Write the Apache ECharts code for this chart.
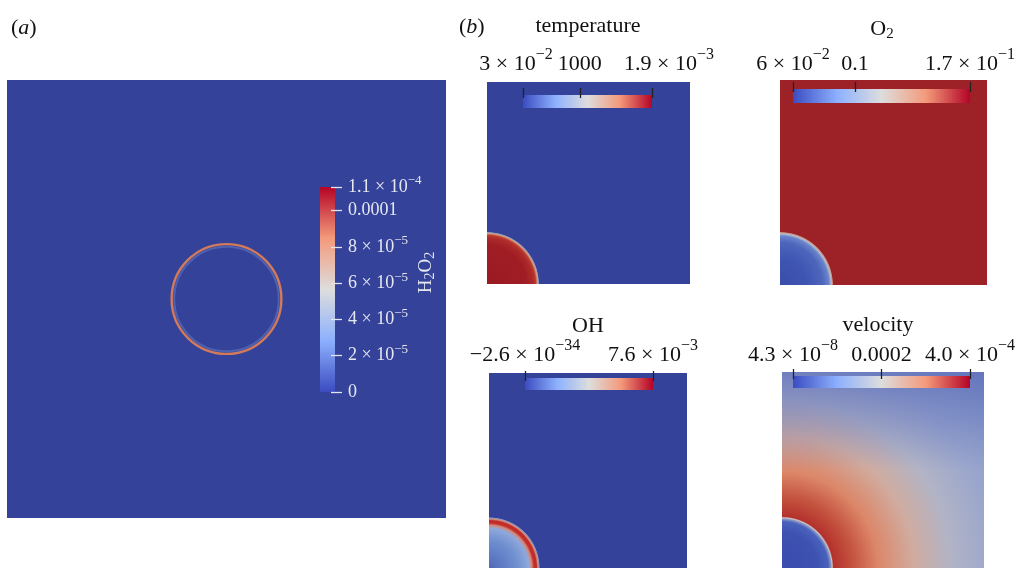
<!DOCTYPE html>
<html><head><meta charset="utf-8">
<script src="https://cdn.jsdelivr.net/npm/echarts@6/dist/echarts.min.js"></script>
<style>html,body{margin:0;padding:0;background:#fff}#c{width:1018px;height:568px}</style>
</head><body><div id="c"></div>
<script>
// ---------- data ----------
const domainA = [0, 1];                 // panel (a) domain (x and y)
const ringA = [0.5, 0.5, 0.125];        // cx, cy, radius of the H2O2 ring
const domainB = [0, 0.5];               // panel (b) quarter domain
const discB = [0, 0, 0.125];            // cx, cy, radius of the droplet in (b)

const h2o2Max = 1.13e-4;
const h2o2Ticks = [0, 2e-5, 4e-5, 6e-5, 8e-5, 1e-4, 1.13e-4];
const h2o2Labels = ['0', '2 × 10^-5', '4 × 10^-5', '6 × 10^-5', '8 × 10^-5', '0.0001', '1.1 × 10^-4'];

const tempTicks = [0, 0.44, 1];
const tempLabels = ['3 × 10^-2', '1000', '1.9 × 10^-3'];
const o2Ticks = [0, 0.35, 1];
const o2Labels = ['6 × 10^-2', '0.1', '1.7 × 10^-1'];
const ohTicks = [0, 1];
const ohLabels = ['−2.6 × 10^-34', '7.6 × 10^-3'];
const velTicks = [0, 0.5, 1];
const velLabels = ['4.3 × 10^-8', '0.0002', '4.0 × 10^-4'];

// ---------- styles ----------
const FONT = '"Liberation Serif", "Times New Roman", serif';
const BG_BLUE = '#34429a';
const BG_RED = '#9c2227';
const coolWarm = [[0, '#3b4cc0'], [0.25, '#8db0fe'], [0.5, '#dddddd'], [0.75, '#f49a7b'], [1, '#b40426']];

function fmtLabel(str, nStyle, sStyle) {
  const i = str.indexOf('^');
  if (i < 0) return '{' + nStyle + '|' + str + '}';
  return '{' + nStyle + '|' + str.slice(0, i) + '}{' + sStyle + '|' + str.slice(i + 1).replace('-', '−') + '}';
}
function labelFor(ticks, labels, shiftEnds) {
  return function (v) {
    let b = 0;
    for (let k = 0; k < ticks.length; k++) if (Math.abs(ticks[k] - v) < Math.abs(ticks[b] - v)) b = k;
    let n = 'n', s = 's';
    if (shiftEnds && b === 0) s = 'sl';
    if (shiftEnds && b === ticks.length - 1) n = 'np';
    return fmtLabel(labels[b], n, s);
  };
}
function stops(arr) { return arr.map(s => ({ offset: s[0], color: s[1] })); }
function radial(cx, cy, r, arr) { return { type: 'radial', x: cx, y: cy, r: r, global: true, colorStops: stops(arr) }; }
function rectOf(api, dom) {
  const p0 = api.coord([dom[0], dom[0]]), p1 = api.coord([dom[1], dom[1]]);
  return { x: Math.min(p0[0], p1[0]), y: Math.min(p0[1], p1[1]), width: Math.abs(p1[0] - p0[0]), height: Math.abs(p1[1] - p0[1]) };
}

// ---------- grids ----------
const grids = [
  { left: 7, top: 80, width: 439, height: 438 },     // 0 field a
  { left: 320, top: 187, width: 15, height: 205 },   // 1 bar a
  { left: 487, top: 82, width: 203, height: 202 },   // 2 temperature
  { left: 523, top: 95, width: 129, height: 13 },    // 3 temp bar
  { left: 780, top: 80, width: 207, height: 205 },   // 4 O2
  { left: 793, top: 89, width: 177, height: 14 },    // 5 O2 bar
  { left: 489, top: 373, width: 198, height: 203 },  // 6 OH
  { left: 525, top: 378, width: 128, height: 12 },   // 7 OH bar
  { left: 782, top: 372, width: 202, height: 204 },  // 8 velocity
  { left: 793, top: 376, width: 177, height: 12 }    // 9 vel bar
];

const xAxes = [], yAxes = [];
function hiddenAxes(g, dom) {
  xAxes.push({ gridIndex: g, type: 'value', min: dom[0], max: dom[1], show: false });
  yAxes.push({ gridIndex: g, type: 'value', min: dom[0], max: dom[1], show: false });
}
const LH = 30;
const richB = {
  n: { fontFamily: FONT, fontSize: 22, color: '#111', lineHeight: LH },
  np: { fontFamily: FONT, fontSize: 22, color: '#111', lineHeight: LH, padding: [0, 0, 0, 34] },
  s: { fontFamily: FONT, fontSize: 16, color: '#111', lineHeight: LH, padding: [0, 0, 18, 0] },
  sl: { fontFamily: FONT, fontSize: 16, color: '#111', lineHeight: LH, padding: [0, 14, 18, 0] }
};
function topAxis(g, tickVals, labelVals, ticks, labels, margin, shiftEnds) {
  return {
    gridIndex: g, type: 'value', min: 0, max: 1, position: 'top', offset: -3, z: 10,
    axisLine: { show: false, onZero: false }, splitLine: { show: false },
    axisTick: { show: tickVals.length > 0, inside: false, customValues: tickVals, length: 10, lineStyle: { color: '#222', width: 1.3 } },
    axisLabel: { show: true, customValues: labelVals, margin: margin, showMinLabel: true, showMaxLabel: true, hideOverlap: false,
      formatter: labelFor(ticks, labels, shiftEnds), rich: richB }
  };
}
function barAxes(g, ticks, labels, margin) {
  xAxes.push(topAxis(g, ticks, ticks, ticks, labels, margin, false));
  yAxes.push({ gridIndex: g, type: 'value', min: 0, max: 1, show: false });
}

// grid 0
hiddenAxes(0, domainA);
// grid 1 (vertical colorbar)
xAxes.push({ gridIndex: 1, type: 'value', min: 0, max: 1, show: false });
yAxes.push({
  gridIndex: 1, type: 'value', min: 0, max: h2o2Max, position: 'right', offset: -4, z: 10,
  axisLine: { show: false, onZero: false }, splitLine: { show: false },
  axisTick: { show: true, inside: false, customValues: h2o2Ticks, length: 11, lineStyle: { color: '#e2e4ee', width: 1.3 } },
  axisLabel: {
    show: true, customValues: h2o2Ticks, margin: 17, showMinLabel: true, showMaxLabel: true, hideOverlap: false,
    formatter: labelFor(h2o2Ticks, h2o2Labels, false),
    rich: {
      n: { fontFamily: FONT, fontSize: 18, color: '#e6e8f0', lineHeight: 24 },
      s: { fontFamily: FONT, fontSize: 13, color: '#e6e8f0', lineHeight: 24, padding: [0, 0, 12, 0] }
    }
  },
  name: 'H{b|2}O{b|2}', nameLocation: 'middle', nameRotate: 90, nameGap: 84, nameMoveOverlap: false,
  nameTextStyle: {
    fontFamily: FONT, fontSize: 19, color: '#e6e8f0', padding: [0, 0, 0, 34],
    rich: { b: { fontFamily: FONT, fontSize: 14, color: '#e6e8f0', padding: [8, 0, 0, 0] } }
  }
});
// temperature: end labels on one axis, middle label on a second axis of the same grid
hiddenAxes(2, domainB);
xAxes.push(topAxis(3, tempTicks, [tempTicks[0], tempTicks[tempTicks.length - 1]], tempTicks, tempLabels, 19, true));
yAxes.push({ gridIndex: 3, type: 'value', min: 0, max: 1, show: false });
hiddenAxes(4, domainB); barAxes(5, o2Ticks, o2Labels, 13);
hiddenAxes(6, domainB); barAxes(7, ohTicks, ohLabels, 11);
hiddenAxes(8, domainB); barAxes(9, velTicks, velLabels, 9);
xAxes.push(topAxis(3, [], [tempTicks[1]], tempTicks, tempLabels, 19, false));

// ---------- series ----------
function fieldSeries(g, renderItem) {
  return { type: 'custom', coordinateSystem: 'cartesian2d', xAxisIndex: g, yAxisIndex: g, clip: true, z: 1, silent: true, data: [[0.1, 0.1]], renderItem };
}
function barSeries(g, vertical, maxY) {
  return {
    type: 'custom', coordinateSystem: 'cartesian2d', xAxisIndex: g, yAxisIndex: g, z: 3, silent: true, data: [[0.5, 0]],
    renderItem: function (params, api) {
      const p0 = api.coord([0, 0]), p1 = api.coord([1, maxY]);
      const shape = { x: Math.min(p0[0], p1[0]), y: Math.min(p0[1], p1[1]), width: Math.abs(p1[0] - p0[0]), height: Math.abs(p1[1] - p0[1]) };
      const grad = vertical
        ? { type: 'linear', x: 0, y: 1, x2: 0, y2: 0, colorStops: stops(coolWarm) }
        : { type: 'linear', x: 0, y: 0, x2: 1, y2: 0, colorStops: stops(coolWarm) };
      return { type: 'rect', shape, style: { fill: grad } };
    }
  };
}
function discGeom(api) {
  const c = api.coord([discB[0], discB[1]]);
  const r = api.size([discB[2], 0])[0];
  return { c, r };
}

const series = [
  fieldSeries(0, function (params, api) {
    const box = rectOf(api, domainA);
    const c = api.coord([ringA[0], ringA[1]]);
    const r = api.size([ringA[2], 0])[0];
    return { type: 'group', children: [
      { type: 'rect', shape: box, style: { fill: BG_BLUE } },
      { type: 'circle', shape: { cx: c[0], cy: c[1], r: r - 2.6 }, style: { fill: 'none', stroke: '#6a80c8', lineWidth: 2, opacity: 0.5 } },
      { type: 'circle', shape: { cx: c[0], cy: c[1], r: r }, style: { fill: 'none', stroke: '#d27a5a', lineWidth: 2.4 } }
    ] };
  }),
  barSeries(1, true, h2o2Max),
  fieldSeries(2, function (params, api) {
    const box = rectOf(api, domainB); const d = discGeom(api);
    return { type: 'group', children: [
      { type: 'rect', shape: box, style: { fill: BG_BLUE } },
      { type: 'circle', shape: { cx: d.c[0], cy: d.c[1], r: d.r * 1.03 }, style: { fill: radial(d.c[0], d.c[1], d.r * 1.03,
        [[0, '#9a1a22'], [0.75, '#a01d24'], [0.88, '#ad2a2a'], [0.93, '#b83a30'], [0.965, '#d89a78'], [0.985, '#8f9cc4'], [1, BG_BLUE]]) } }
    ] };
  }),
  barSeries(3, false, 1),
  fieldSeries(4, function (params, api) {
    const box = rectOf(api, domainB); const d = discGeom(api);
    return { type: 'group', children: [
      { type: 'rect', shape: box, style: { fill: BG_RED } },
      { type: 'circle', shape: { cx: d.c[0], cy: d.c[1], r: d.r * 1.03 }, style: { fill: radial(d.c[0], d.c[1], d.r * 1.03,
        [[0, '#3a4ea8'], [0.5, '#3f55b2'], [0.8, '#4d66bc'], [0.92, '#6a84cc'], [0.96, '#b8bccc'], [0.985, '#c88e7c'], [1, BG_RED]]) } }
    ] };
  }),
  barSeries(5, false, 1),
  fieldSeries(6, function (params, api) {
    const box = rectOf(api, domainB); const d = discGeom(api);
    return { type: 'group', children: [
      { type: 'rect', shape: box, style: { fill: BG_BLUE } },
      { type: 'circle', shape: { cx: d.c[0], cy: d.c[1], r: d.r * 1.03 }, style: { fill: radial(d.c[0], d.c[1], d.r * 1.03,
        [[0, '#4f68ba'], [0.55, '#7090d0'], [0.78, '#90a8dc'], [0.84, '#d48a78'], [0.88, '#c4302e'], [0.93, '#c02a2a'], [0.96, '#d8907a'], [0.985, '#7f92c8'], [1, BG_BLUE]]) } }
    ] };
  }),
  barSeries(7, false, 1),
  fieldSeries(8, function (params, api) {
    const box = rectOf(api, domainB); const d = discGeom(api);
    const R = Math.sqrt(box.width * box.width + box.height * box.height);
    return { type: 'group', children: [
      { type: 'rect', shape: box, style: { fill: radial(d.c[0], d.c[1], R,
        [[0, '#b02a2a'], [0.18, '#b3302c'], [0.25, '#c4523e'], [0.34, '#dc8668'], [0.47, '#d0aca0'], [0.6, '#b2b4c6'], [0.75, '#9aa6cc'], [1, '#8696c8']]) } },
      { type: 'rect', shape: box, style: { fill: { type: 'linear', x: 0, y: 0, x2: 0, y2: 1, colorStops: stops([[0, 'rgba(70,90,180,0.55)'], [0.25, 'rgba(80,100,185,0.3)'], [0.5, 'rgba(90,110,190,0)'], [1, 'rgba(90,110,190,0)']]) } } },
      { type: 'circle', shape: { cx: d.c[0], cy: d.c[1], r: d.r * 1.02 }, style: { fill: radial(d.c[0], d.c[1], d.r * 1.02,
        [[0, '#3a4cae'], [0.7, '#3e52b2'], [0.9, '#4a62bc'], [0.95, '#8896c8'], [0.975, '#d0c4c0'], [1, '#b3302c']]) } }
    ] };
  }),
  barSeries(9, false, 1)
];

// ---------- titles ----------
const tStyle = { fontFamily: FONT, fontSize: 22, color: '#111', fontWeight: 'normal' };
const titles = [
  { text: '({i|a})', left: 11, top: 17, padding: 0, textStyle: Object.assign({}, tStyle, { rich: { i: { fontFamily: FONT, fontSize: 22, fontStyle: 'italic', color: '#111' } } }) },
  { text: '({i|b})', left: 459, top: 16, padding: 0, textStyle: Object.assign({}, tStyle, { rich: { i: { fontFamily: FONT, fontSize: 22, fontStyle: 'italic', color: '#111' } } }) },
  { text: 'temperature', left: 588, top: 15, padding: 0, textAlign: 'center', textStyle: tStyle },
  { text: 'O{b|2}', left: 882, top: 17, padding: 0, textAlign: 'center', textStyle: Object.assign({}, tStyle, { rich: { b: { fontFamily: FONT, fontSize: 15, color: '#111', padding: [10, 0, 0, 0] } } }) },
  { text: 'OH', left: 588, top: 315, padding: 0, textAlign: 'center', textStyle: tStyle },
  { text: 'velocity', left: 878, top: 314, padding: 0, textAlign: 'center', textStyle: tStyle }
];

const chart = echarts.init(document.getElementById('c'), null, { renderer: 'canvas' });
chart.setOption({
  backgroundColor: '#ffffff',
  animation: false,
  title: titles,
  grid: grids,
  xAxis: xAxes,
  yAxis: yAxes,
  series: series
});
</script>
</body></html>
